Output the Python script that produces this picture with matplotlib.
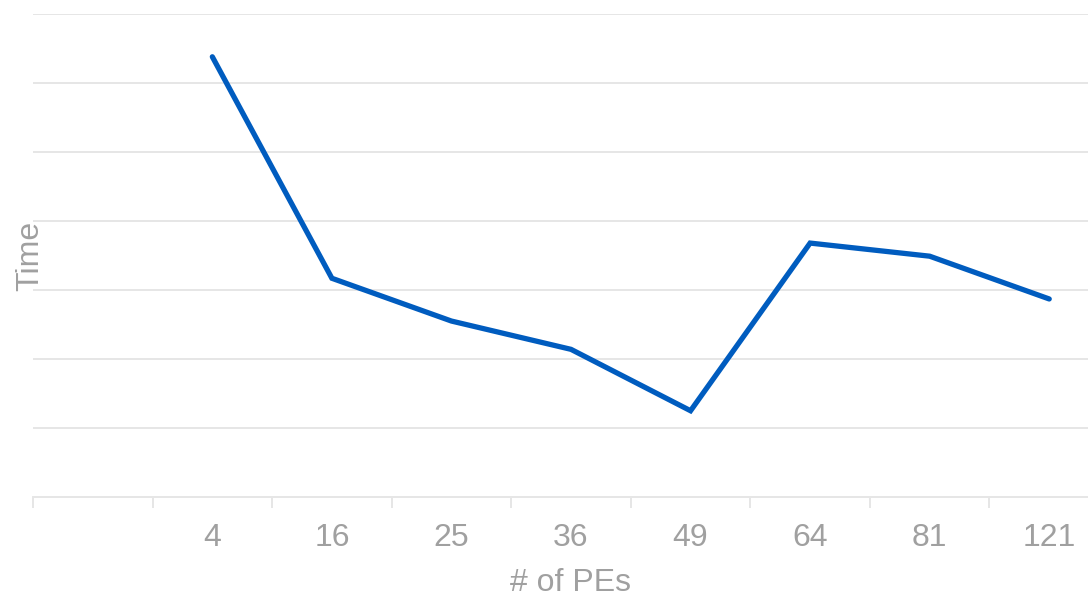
import matplotlib.pyplot as plt
import numpy as np

plt.rcParams['font.family'] = ['Liberation Sans', 'DejaVu Sans']

# processor counts (first slot left empty on the axis)
pe_labels = ["", "4", "16", "25", "36", "49", "64", "81", "121"]
times = [6.38, 3.17, 2.55, 2.14, 1.25, 3.68, 3.49, 2.87]

grey = '#a0a0a0'
grid_col = '#e6e6e6'

fig = plt.figure(figsize=(10.88, 5.98), dpi=100)
ax = fig.add_axes([33 / 1088, 101 / 598, 1076 / 1088, 483 / 598])

x = np.arange(len(pe_labels))
ax.plot(x[1:], times, color='#005cbf', lw=3.8, solid_capstyle='round',
        solid_joinstyle='miter', zorder=3)

ax.set_xlim(-0.5, len(pe_labels) - 0.5)
ax.set_ylim(0, 7)

ax.set_yticks(np.arange(0, 8))
ax.set_yticklabels([])
ax.tick_params(axis='y', length=0)
ax.grid(axis='y', color=grid_col, lw=1.4)

ax.set_xticks(x)
ax.set_xticklabels(pe_labels, color=grey, fontsize=23)
ax.tick_params(axis='x', which='major', length=0, pad=19)
ax.set_xticks(np.append(x - 0.5, x[-1] + 0.5), minor=True)
ax.tick_params(axis='x', which='minor', length=8, width=1.4, color=grid_col)

for side in ['top', 'right', 'left']:
    ax.spines[side].set_visible(False)
ax.spines['bottom'].set_color(grid_col)
ax.spines['bottom'].set_linewidth(1.4)

ax.set_xlabel('# of PEs', color=grey, fontsize=23, va='center')
ax.set_ylabel('Time', color=grey, fontsize=23, va='center')
ax.xaxis.set_label_coords(538 / 1076, -86 / 483)
ax.yaxis.set_label_coords(-3 / 1076, 0.5)

fig.savefig('out.png', dpi=100)
